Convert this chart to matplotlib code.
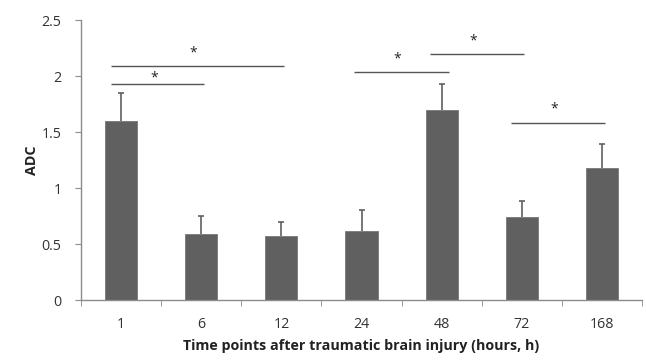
import matplotlib
matplotlib.use("Agg")
import matplotlib.pyplot as plt
import numpy as np

categories = ["1", "6", "12", "24", "48", "72", "168"]
means = [1.60, 0.59, 0.57, 0.62, 1.70, 0.74, 1.18]
err_upper = [0.25, 0.16, 0.13, 0.18, 0.23, 0.14, 0.21]
# significance brackets: (x start, x end, y level)
sig_x0 = [-0.12, -0.12, 2.91, 3.85, 4.86]
sig_x1 = [1.04, 2.03, 4.09, 5.03, 6.04]
sig_y = [1.93, 2.09, 2.04, 2.20, 1.58]

plt.rcParams['font.family'] = ['Open Sans', 'DejaVu Sans']

fig = plt.figure(figsize=(6.46, 3.6), dpi=100)
ax = fig.add_axes([81/646, 60/360, 561/646, 280/360])

x = np.arange(len(categories))
gray = "#606060"
axcol = "#8c8c8c"
ax.bar(x, means, width=0.4, color=gray, edgecolor="#777777", linewidth=0.6, zorder=2)
eb = ax.errorbar(x, means, yerr=[np.zeros(len(means)), err_upper], fmt="none",
                 ecolor=gray, elinewidth=1.2, capsize=2, capthick=1.2, zorder=1)
caplines = eb[1]
if len(caplines) == 2:
    caplines[0].set_visible(False)

star_off = [0.055, 0.115, 0.115, 0.115, 0.125]
for a, b, y, off in zip(sig_x0, sig_x1, sig_y, star_off):
    ax.plot([a, b], [y, y], color="#555555", lw=1.0, solid_capstyle="butt")
    ax.text((a + b) / 2 - 0.05, y + off, "*", ha="center", va="center",
            fontsize=10, color="#222222")

ax.set_xlim(-0.5, len(categories) - 0.5)
ax.set_ylim(0, 2.5)
ax.set_yticks([0, 0.5, 1, 1.5, 2, 2.5])
ax.set_yticklabels(["0", "0.5", "1", "1.5", "2", "2.5"])
ax.set_xticks(x)
ax.set_xticklabels(categories)
ax.set_xticks(np.arange(-0.5, len(categories)), minor=True)
ax.tick_params(axis="x", which="major", length=0, pad=12, labelsize=10.3, colors="#333333")
ax.tick_params(axis="x", which="minor", length=4, direction="out", color=axcol)
ax.tick_params(axis="y", length=4, direction="out", color=axcol, labelsize=10.3, labelcolor="#333333", pad=10)
for s in ["top", "right"]:
    ax.spines[s].set_visible(False)
for s in ["left", "bottom"]:
    ax.spines[s].set_color(axcol)
    ax.spines[s].set_linewidth(1.0)

ax.set_ylabel("ADC", fontsize=10.3, fontweight="bold", color="#222222", labelpad=2)
ax.set_xlabel("Time points after traumatic brain injury (hours, h)", fontsize=10.3,
              fontweight="bold", color="#222222", labelpad=5)

fig.savefig("out.png", dpi=100)
